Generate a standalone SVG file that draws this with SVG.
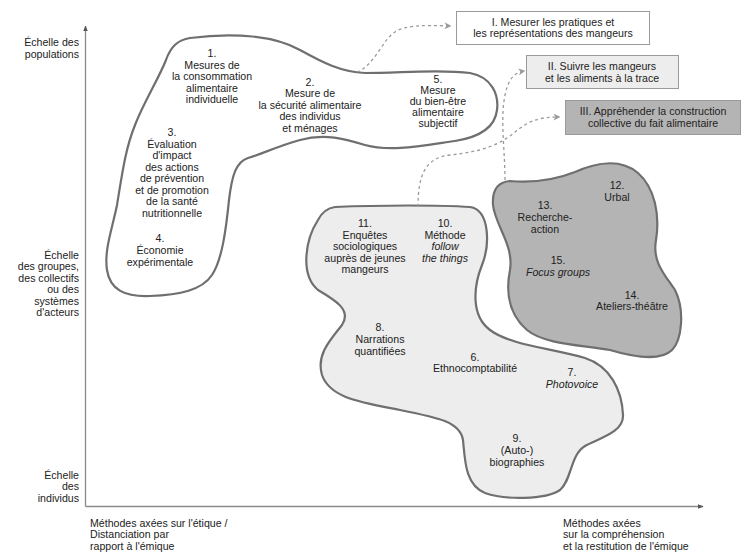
<svg xmlns="http://www.w3.org/2000/svg" width="741" height="558" viewBox="0 0 741 558">
<style>
text{font-family:"Liberation Sans",Arial,sans-serif;font-size:10.6px;fill:#222}
.c{text-anchor:middle}
.r{text-anchor:end}
.i{font-style:italic}
.blob{stroke:#6f6f6f;stroke-width:2.2}
.box{stroke:#9a9a9a;stroke-width:1}
.dash{fill:none;stroke:#9a9a9a;stroke-width:1.3;stroke-dasharray:3 3;marker-end:url(#ah)}
.axis{stroke:#8a8a8a;stroke-width:1.3;fill:none}
</style>
<defs>
<marker id="ah" viewBox="0 0 10 10" refX="8" refY="5" markerWidth="7" markerHeight="7" markerUnits="userSpaceOnUse" orient="auto"><path d="M0,0 L10,5 L0,10 L3,5 Z" fill="#9a9a9a"/></marker>
<marker id="ax" viewBox="0 0 10 10" refX="9" refY="5" markerWidth="6" markerHeight="6" markerUnits="userSpaceOnUse" orient="auto"><path d="M0,1 L10,5 L0,9 Z" fill="#555"/></marker>
</defs>
<rect width="741" height="558" fill="#fff"/>

<g id="axes">
<path class="axis" d="M85.5,506.5 L85.5,26" marker-end="url(#ax)"/>
<path class="axis" d="M85.5,506.5 L703,506.5" marker-end="url(#ax)"/>
<text class="r" x="79" y="45.5">Échelle des</text>
<text class="r" x="79" y="57.5">populations</text>
<text class="r" x="79" y="258.5">Échelle</text>
<text class="r" x="79" y="270">des groupes,</text>
<text class="r" x="79" y="281.5">des collectifs</text>
<text class="r" x="79" y="293">ou des</text>
<text class="r" x="79" y="304.5">systèmes</text>
<text class="r" x="79" y="316">d'acteurs</text>
<text class="r" x="79" y="478.5">Échelle</text>
<text class="r" x="79" y="490">des</text>
<text class="r" x="79" y="501.5">individus</text>
<text x="90" y="526.5">Méthodes axées sur l'étique /</text>
<text x="90" y="538">Distanciation par</text>
<text x="90" y="549.5">rapport à l'émique</text>
<text x="563" y="526.5">Méthodes axées</text>
<text x="563" y="538">sur la compréhension</text>
<text x="563" y="549.5">et la restitution de l'émique</text>
</g>

<g id="blob-quantitative">
<path class="blob" fill="#fff" d="M190,38 C235,32 275,36 300,50 C322,62 340,72 365,73 C400,73 440,69 470,73 C492,77 499,95 497,110 C495,128 480,137 455,141 C420,146 390,152 365,145 C345,139 325,133 300,140 C278,146 262,154 248,158 C236,162 232,175 229,200 C226,230 222,260 212,275 C202,290 180,295 150,296 C125,297 110,290 107,270 C104,250 112,230 117,205 C122,175 125,150 135,125 C145,100 158,80 166,60 C171,46 178,40 190,38 Z"/>
</g>
<g id="blob-trace">
<path class="blob" fill="#ededed" d="M335,207 C380,205 440,205 470,207 C490,210 490,245 482,265 C474,285 470,315 490,330 C510,345 550,348 585,358 C610,366 622,390 623,415 C624,432 600,438 585,446 C570,455 572,480 560,490 C545,500 505,500 485,493 C465,485 465,460 463,440 C460,422 440,418 400,410 C360,402 330,398 322,375 C316,355 330,340 342,325 C352,310 335,300 318,290 C300,275 305,240 318,220 C322,212 328,208 335,207 Z"/>
</g>
<g id="blob-collective">
<path class="blob" fill="#b4b4b4" d="M510,181 C535,183 555,180 575,172 C595,163 620,158 638,173 C655,188 660,215 656,240 C652,262 665,275 675,290 C685,310 682,340 672,350 C660,362 630,356 610,350 C585,345 545,345 527,330 C510,315 505,295 510,270 C514,245 495,225 493,205 C492,190 498,182 510,181 Z"/>
</g>

<g id="connectors">
<path class="dash" d="M357,72 C375,65 382,40 395,32 C405,25 425,25 450,26"/>
<path class="dash" d="M505,180 C505,150 500,120 505,95 C508,82 512,73 524,71"/>
<path class="dash" d="M418,207 C418,175 425,158 450,155 C480,152 500,145 515,132 C530,120 540,117 559,117"/>
</g>

<g id="box-I">
<rect class="box" x="456.5" y="11.5" width="193" height="33" fill="#fff"/>
<text class="c" x="553" y="25.5">I. Mesurer les pratiques et</text>
<text class="c" x="553" y="37">les représentations des mangeurs</text>
</g>
<g id="box-II">
<rect class="box" x="526.5" y="55.5" width="152" height="33" fill="#ededed"/>
<text class="c" x="602" y="69.5">II. Suivre les mangeurs</text>
<text class="c" x="602" y="81.5">et les aliments à la trace</text>
</g>
<g id="box-III">
<rect class="box" x="565.5" y="100.5" width="175" height="34" fill="#b4b4b4"/>
<text class="c" x="653" y="114.5">III. Appréhender la construction</text>
<text class="c" x="653" y="126.5">collective du fait alimentaire</text>
</g>

<g id="n1"><text class="c" x="212" y="57">1.</text><text class="c" x="212" y="68.5">Mesures de</text><text class="c" x="212" y="80">la consommation</text><text class="c" x="212" y="91.5">alimentaire</text><text class="c" x="212" y="103">individuelle</text></g>
<g id="n2"><text class="c" x="310" y="85.5">2.</text><text class="c" x="310" y="97">Mesure de</text><text class="c" x="310" y="108.5">la sécurité alimentaire</text><text class="c" x="310" y="120">des individus</text><text class="c" x="310" y="131.5">et ménages</text></g>
<g id="n5"><text class="c" x="438" y="82.5">5.</text><text class="c" x="438" y="93.5">Mesure</text><text class="c" x="438" y="104.5">du bien-être</text><text class="c" x="438" y="115.5">alimentaire</text><text class="c" x="438" y="126.5">subjectif</text></g>
<g id="n3"><text class="c" x="172" y="135.5">3.</text><text class="c" x="172" y="147.5">Évaluation</text><text class="c" x="172" y="159">d'impact</text><text class="c" x="172" y="170.5">des actions</text><text class="c" x="172" y="182">de prévention</text><text class="c" x="172" y="193.5">et de promotion</text><text class="c" x="172" y="205">de la santé</text><text class="c" x="172" y="216.5">nutritionnelle</text></g>
<g id="n4"><text class="c" x="160" y="241.5">4.</text><text class="c" x="160" y="253.5">Économie</text><text class="c" x="160" y="265.5">expérimentale</text></g>

<g id="n11"><text class="c" x="365" y="226.5">11.</text><text class="c" x="365" y="238.5">Enquêtes</text><text class="c" x="365" y="250">sociologiques</text><text class="c" x="365" y="261.5">auprès de jeunes</text><text class="c" x="365" y="273">mangeurs</text></g>
<g id="n10"><text class="c" x="445" y="226.5">10.</text><text class="c" x="445" y="238.5">Méthode</text><text class="c i" x="445" y="250">follow</text><text class="c i" x="445" y="261.5">the things</text></g>
<g id="n8"><text class="c" x="380" y="331">8.</text><text class="c" x="380" y="343">Narrations</text><text class="c" x="380" y="355">quantifiées</text></g>
<g id="n6"><text class="c" x="475" y="360.5">6.</text><text class="c" x="475" y="372">Ethnocomptabilité</text></g>
<g id="n7"><text class="c" x="572" y="376">7.</text><text class="c i" x="572" y="388">Photovoice</text></g>
<g id="n9"><text class="c" x="517" y="441.5">9.</text><text class="c" x="517" y="453.5">(Auto-)</text><text class="c" x="517" y="465.5">biographies</text></g>

<g id="n12"><text class="c" x="617" y="188.5">12.</text><text class="c" x="617" y="200.5">Urbal</text></g>
<g id="n13"><text class="c" x="545" y="208.5">13.</text><text class="c" x="545" y="221">Recherche-</text><text class="c" x="545" y="233">action</text></g>
<g id="n15"><text class="c" x="558" y="263.5">15.</text><text class="c i" x="558" y="276">Focus groups</text></g>
<g id="n14"><text class="c" x="632" y="298.5">14.</text><text class="c" x="632" y="310">Ateliers-théâtre</text></g>
</svg>
